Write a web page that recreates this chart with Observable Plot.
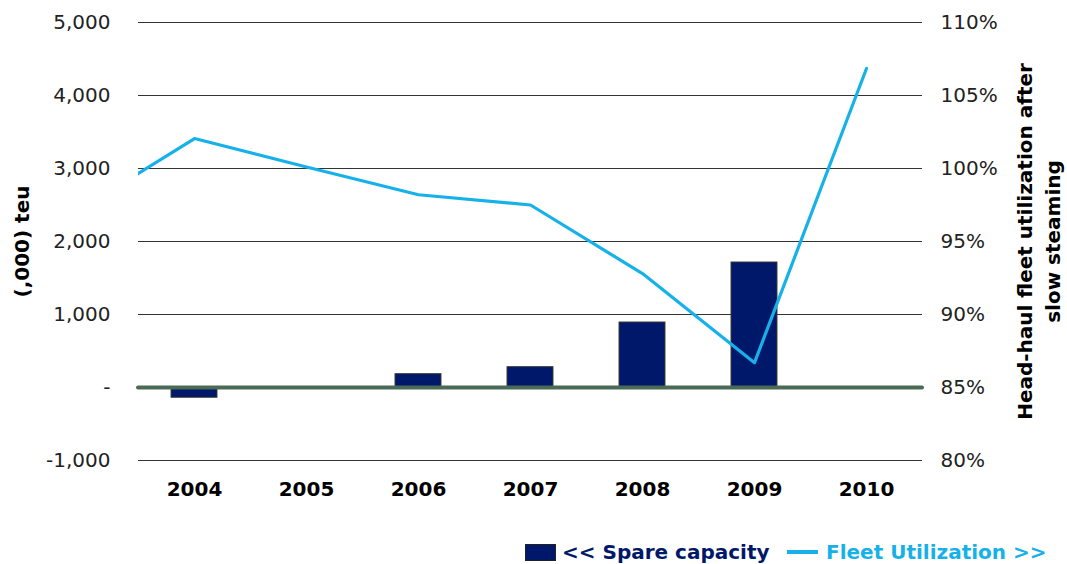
<!DOCTYPE html>
<html>
<head>
<meta charset="utf-8">
<script src="https://cdn.jsdelivr.net/npm/d3@7"></script>
<script src="https://cdn.jsdelivr.net/npm/@observablehq/plot@0.6"></script>
<style>
  html, body { margin: 0; padding: 0; background: #fff; }
  #chart { width: 1067px; font-family: "DejaVu Sans", Verdana, sans-serif; }
  .legend { position: relative; height: 34px; font-weight: bold; font-size: 20px; }
  .legend .item { position: absolute; top: 0; height: 34px; display: flex; align-items: center; white-space: nowrap; }
  .sw-bar { width: 29px; height: 15px; background: #00186a; border: 1px solid #222; margin-right: 6px; }
  .sw-line { width: 31px; height: 4px; background: #16b1e9; margin-right: 8px; }
</style>
</head>
<body>
<div id="chart"></div>
<script>
// Data
const years = [2004, 2005, 2006, 2007, 2008, 2009, 2010];
const spareCapacity = [-140, 0, 182, 278, 890, 1712, 0];          // (,000) teu
const utilYears = [2003, 2004, 2005, 2006, 2007, 2008, 2009, 2010];
const utilization = [97.3, 102.05, 100.1, 98.2, 97.5, 92.8, 86.7, 106.85]; // %
const leftTicks = [-1000, 0, 1000, 2000, 3000, 4000, 5000];
const leftTickLabels = ["-1,000", "-", "1,000", "2,000", "3,000", "4,000", "5,000"];
const rightTickLabels = ["80%", "85%", "90%", "95%", "100%", "105%", "110%"];
const labels = {
  left: "(,000) teu",
  right: "Head-haul fleet utilization after\nslow steaming",
  bars: "<< Spare capacity",
  line: "Fleet Utilization >>"
};
const colors = { bar: "#00186a", line: "#16b1e9", zero: "#4b6a55", grid: "#333333", text: "#222222" };

// Map right-axis % onto left-axis units: 85% -> 0, 110% -> 5000
const pctToLeft = p => (p - 85) * 200;

const bars = years.map((y, i) => ({ year: y, spare: spareCapacity[i] })).filter(d => d.spare !== 0);
const util = utilYears.map((y, i) => ({ year: y, v: pctToLeft(utilization[i]) }));

const chart = Plot.plot({
  width: 1067,
  height: 530,
  marginTop: 22,
  marginBottom: 70,
  marginLeft: 138,
  marginRight: 145,
  style: { fontFamily: "DejaVu Sans, Verdana, sans-serif", fontSize: "20px", color: colors.text, background: "#fff" },
  x: { domain: [2003.5, 2010.5] },
  y: { domain: [-1000, 5000] },
  marks: [
    Plot.ruleY(leftTicks.filter(t => t !== 0), { stroke: colors.grid, strokeWidth: 1.2 }),
    Plot.rectY(bars, {
      x1: d => d.year - 0.205,
      x2: d => d.year + 0.205,
      y: "spare",
      fill: colors.bar,
      stroke: "#333",
      strokeWidth: 1
    }),
    Plot.ruleY([0], { stroke: colors.zero, strokeWidth: 4, strokeLinecap: "round" }),
    Plot.line(util, { x: "year", y: "v", stroke: colors.line, strokeWidth: 3.2, clip: true }),
    Plot.axisX({
      ticks: years, tickFormat: d => String(d), tickSize: 0, tickPadding: 21,
      fontWeight: "bold", fontSize: 20, fill: "#000", label: null
    }),
    Plot.axisY({
      anchor: "left", ticks: leftTicks, tickSize: 0, tickPadding: 28,
      tickFormat: d => leftTickLabels[leftTicks.indexOf(d)], label: null, fill: colors.text
    }),
    Plot.axisY({
      anchor: "right", ticks: leftTicks, tickSize: 0, tickPadding: 18,
      tickFormat: d => rightTickLabels[leftTicks.indexOf(d)], label: null, fill: colors.text
    }),
    Plot.text([labels.left], {
      frameAnchor: "left", dx: -116, rotate: -90, text: d => d,
      fontWeight: "bold", fontSize: 20, fill: "#000", textAnchor: "middle"
    }),
    Plot.text([labels.right], {
      frameAnchor: "right", dx: 115, rotate: -90, text: d => d,
      fontWeight: "bold", fontSize: 20, fill: "#000", textAnchor: "middle",
      lineAnchor: "middle", lineHeight: 1.4
    })
  ]
});

const root = document.getElementById("chart");
root.appendChild(chart);

const legend = document.createElement("div");
legend.className = "legend";
legend.innerHTML = `
  <div class="item" style="left:525px;color:${colors.bar}"><span class="sw-bar"></span>${labels.bars}</div>
  <div class="item" style="left:787px;color:${colors.line}"><span class="sw-line"></span>${labels.line}</div>
`;
legend.style.marginTop = "5px";
root.appendChild(legend);
</script>
</body>
</html>
